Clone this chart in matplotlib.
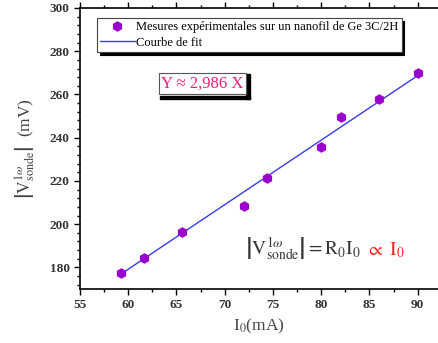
import matplotlib
matplotlib.use("Agg")
import matplotlib.pyplot as plt
from matplotlib.ticker import MultipleLocator
import numpy as np

i0_ma = [59.2, 61.6, 65.6, 72.0, 74.4, 80.0, 82.0, 86.0, 90.0]
v_mv = [177.5, 184.5, 196.5, 208.5, 221.5, 235.5, 249.5, 258.0, 270.0]
slope = 2.986
xticks = [55, 60, 65, 70, 75, 80, 85, 90]
yticks = [180, 200, 220, 240, 260, 280, 300]

plt.rcParams['font.family'] = ['Liberation Serif', 'DejaVu Serif']
plt.rcParams['mathtext.fontset'] = 'stix'

fig = plt.figure(figsize=(4.38, 3.43), dpi=100)
ax = fig.add_axes([80/438, 54/343, 358/438, 281/343])

fit_x = np.array([i0_ma[0], i0_ma[-1]])
ax.plot(i0_ma, v_mv, 'h', color='#9a00cc', ms=6.5, mec='#9a00cc',
        label='Mesures expérimentales sur un nanofil de Ge 3C/2H', zorder=3)
ax.plot(fit_x, slope * fit_x, '-', color='#3a3af5', lw=1.0, label='Courbe de fit')

ax.set_xlim(55, 92.1)
ax.set_ylim(170, 300)
ax.set_xticks(xticks)
ax.set_yticks(yticks)
ax.xaxis.set_minor_locator(MultipleLocator(2.5))
ax.yaxis.set_minor_locator(MultipleLocator(4))
ax.tick_params(which='both', direction='out', top=True, labelsize=9.5, width=1.0)
ax.tick_params(which='major', length=4)
ax.tick_params(which='minor', length=2)
for lab in ax.get_xticklabels() + ax.get_yticklabels():
    lab.set_fontweight('bold')
    lab.set_color('#333333')
ax.spines['right'].set_visible(False)
for s in ['left', 'bottom', 'top']:
    ax.spines[s].set_linewidth(1.2)

ax.set_xlabel(r'I$_0$(mA)', fontsize=12.5, color='#444444', labelpad=4)
ax.set_ylabel(r'$\left|\mathrm{V}^{1\omega}_{\rm sonde}\right|$  (mV)', fontsize=12.5,
              color='#444444', labelpad=8)

leg = ax.legend(loc='upper left', bbox_to_anchor=(0.047, 0.965), fontsize=9,
                fancybox=False, shadow={'color': 'black', 'alpha': 1.0},
                edgecolor='#444444', framealpha=1, borderpad=0.25,
                handlelength=2.8, handletextpad=0.1, labelspacing=0.3,
                borderaxespad=0)
leg.get_frame().set_linewidth(0.8)

ax.text(67.7, 265, 'Y ≈ 2,986 X', fontsize=12, color='#e8207a',
        ha='center', va='center',
        bbox=dict(boxstyle='square,pad=0.15', fc='white', ec='#555555', lw=0.8))
ax.add_patch(plt.Rectangle((63.3, 257.8), 9.3, 1.3, color='black', zorder=1))
ax.add_patch(plt.Rectangle((72.2, 257.8), 0.45, 11.5, color='black', zorder=1))

t1 = ax.text(72.1, 188.2, r'$\left|\mathrm{V}^{1\omega}_{\mathrm{sonde}}\right| = \mathrm{R_0I_0}$',
             fontsize=14, color='#333333', ha='left', va='center')
ax.annotate(r' $\propto\ \mathrm{I_0}$', xy=(1, 0.5), xycoords=t1, fontsize=14,
            color='#ff2020', ha='left', va='center')

fig.savefig('out.png', dpi=100)
